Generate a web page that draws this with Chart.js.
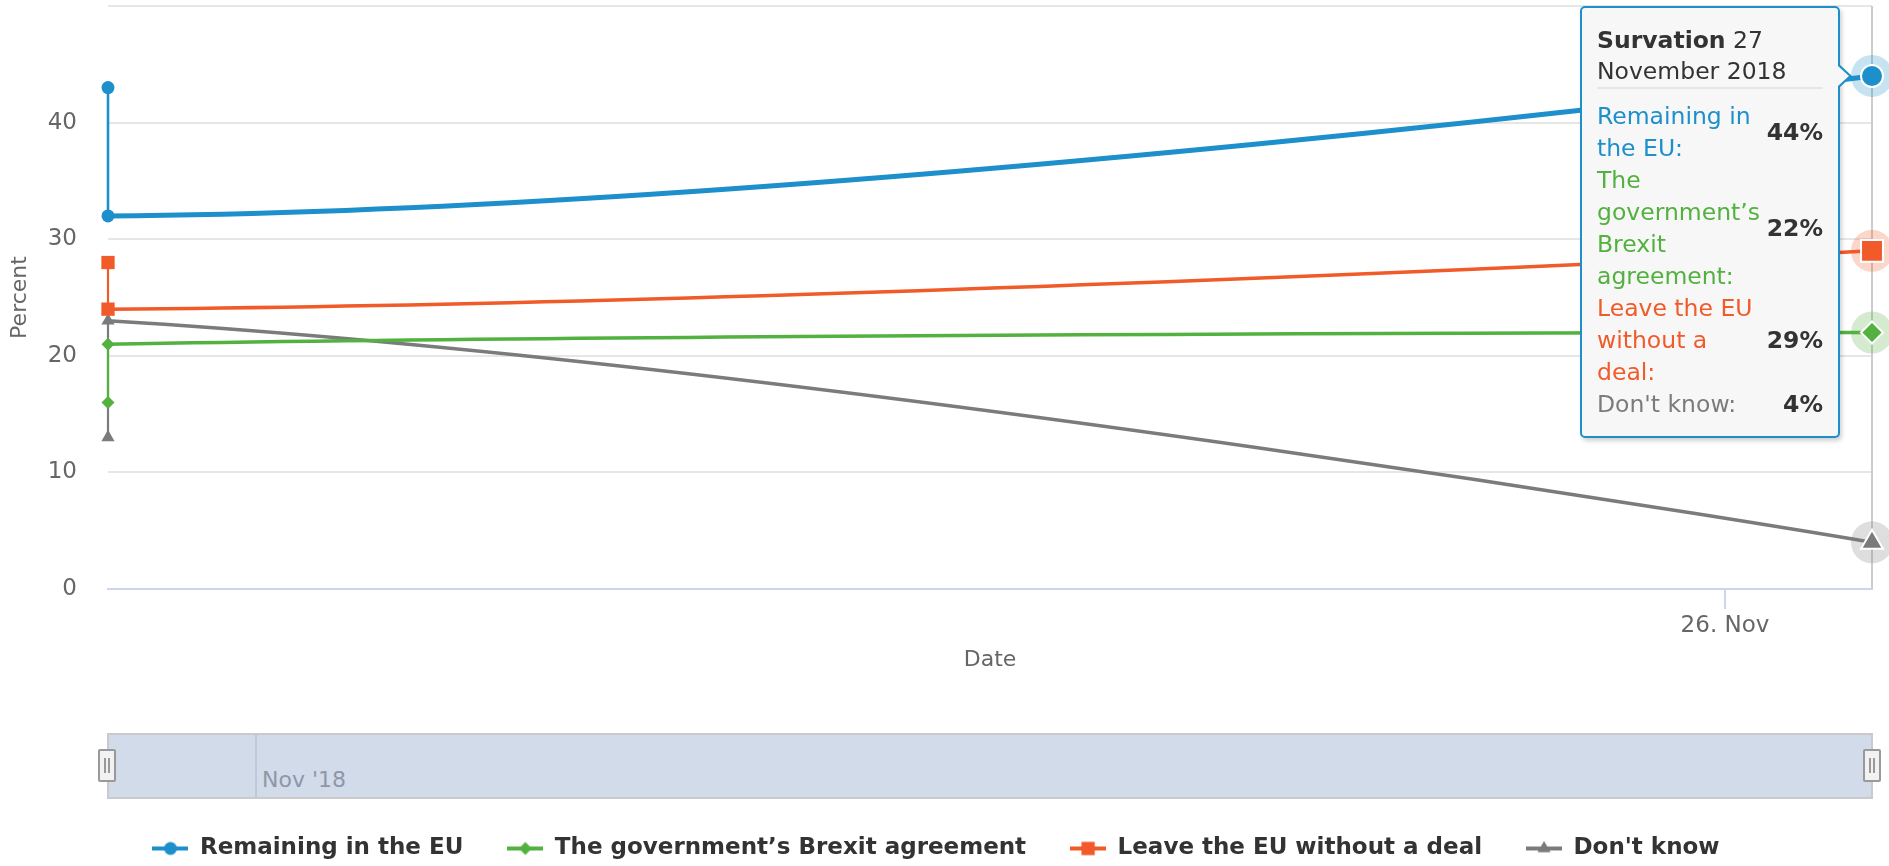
<!DOCTYPE html>
<html>
<head>
<meta charset="utf-8">
<title>Brexit polling</title>
<script src="https://cdn.jsdelivr.net/npm/chart.js@4/dist/chart.umd.min.js"></script>
<style>
    body { margin: 0; background: #fff; }
    #wrap { position: relative; width: 1889px; height: 866px; }
    #pollChart { position: absolute; left: 0; top: 0; }

    /* tooltip box, filled from the chart's tooltip model */
    #tip {
        position: absolute; display: none; box-sizing: border-box; width: 260px;
        background: #f7f7f7; border: 2px solid var(--c); border-radius: 5px;
        padding: 17px 15px 16px 15px; box-shadow: 2px 3px 4px rgba(0, 0, 0, 0.18);
        font: 23.5px "DejaVu Sans", sans-serif; color: #333; pointer-events: none;
    }
    #tip::before, #tip::after { content: ''; position: absolute; border-style: solid; }
    #tip::before { right: -14px; top: 56px; border-width: 12px 0 12px 13px; border-color: transparent transparent transparent var(--c); }
    #tip::after { right: -11px; top: 58px; border-width: 10px 0 10px 11px; border-color: transparent transparent transparent #f7f7f7; }
    #tip .head { line-height: 31px; border-bottom: 2px solid #e6e6e6; }
    #tip table { border-collapse: collapse; margin-top: 11px; width: 100%; }
    #tip td { padding: 0; line-height: 32px; }
    #tip td.name { width: 170px; }
    #tip td.value { font-weight: bold; text-align: right; vertical-align: middle; }

    /* range selector strip under the chart */
    .nav { position: absolute; top: 733px; height: 62px; background: #d2dbea; border: 2px solid #cacaca; }
    .nav-grid { position: absolute; left: 146px; top: 0; bottom: 0; width: 2px; background: #bec8da; }
    .nav-label { position: absolute; left: 153px; top: 32px; font: 22px "DejaVu Sans", sans-serif; color: #8e97a8; }
    .handle { position: absolute; top: 749px; width: 14px; height: 29px; background: #f2f2f2; border: 2px solid #999; border-radius: 2px; }
    .handle::before, .handle::after { content: ''; position: absolute; top: 7px; height: 15px; width: 2px; background: #999; }
    .handle::before { left: 4px; }
    .handle::after { left: 8px; }
</style>
</head>
<body>
<div id="wrap">
    <canvas id="pollChart"></canvas>
    <div class="nav" id="nav"><div class="nav-grid"></div><span class="nav-label">Nov '18</span></div>
    <div class="handle" id="handleLeft"></div>
    <div class="handle" id="handleRight"></div>
    <div id="tip"></div>
</div>
<script>
// Poll dates as day of November 2018, two polls on the first day
const pollDays = [15, 15, 27];

// Percent per answer, in poll order
const remaining = [43, 32, 44];
const governmentDeal = [16, 21, 22];
const leaveNoDeal = [28, 24, 29];
const dontKnow = [13, 23, 4];

const seriesNames = ['Remaining in the EU', 'The government’s Brexit agreement', 'Leave the EU without a deal', "Don't know"];
const seriesValues = [remaining, governmentDeal, leaveNoDeal, dontKnow];

// x axis shows a single dated tick
const xTicks = [26];
const xTickLabels = ['26. Nov'];

const latestPollster = 'Survation';
const latestPollDate = '27 November 2018';

// look of each series
const colors = ['#1d8fcb', '#52b13f', '#f15a29', '#7b7b7b'];
const markers = ['circle', 'rectRot', 'rect', 'triangle'];
const markerRadius = [6.5, 6.5, 9.4, 7.6];
const hoverRadius = [11, 11, 15.5, 12.7];
const lineWidths = [5, 3.5, 3.5, 3.5];
const sameDayWidths = [2.6, 2.2, 2.2, 2.2];

const FONT = 'DejaVu Sans';
Chart.defaults.font.family = FONT;

// Small line + marker pictures for the legend
function legendSymbol(i) {
    const c = document.createElement('canvas');
    c.width = 36;
    c.height = 22;
    const g = c.getContext('2d');
    g.strokeStyle = colors[i];
    g.lineWidth = 4;
    g.beginPath();
    g.moveTo(0, 11);
    g.lineTo(36, 11);
    g.stroke();
    g.fillStyle = colors[i];
    Chart.helpers.drawPoint(g, { pointStyle: markers[i], radius: markerRadius[i], rotation: 0, borderWidth: 0 }, 18, 11);
    return c;
}
const symbols = seriesNames.map((n, i) => legendSymbol(i));

const datasets = seriesNames.map((name, i) => ({
    label: name,
    data: pollDays.map((d, k) => ({ x: d, y: seriesValues[i][k] })),
    borderColor: colors[i],
    backgroundColor: colors[i],
    borderWidth: lineWidths[i],
    tension: 0.4,
    clip: false,
    pointStyle: markers[i],
    pointRadius: markerRadius[i],
    pointBorderWidth: 0,
    pointHoverRadius: hoverRadius[i],
    pointHoverBackgroundColor: colors[i],
    pointHoverBorderColor: '#ffffff',
    pointHoverBorderWidth: 2,
    // polls on the same day are joined by a thin line
    segment: {
        borderWidth: c => (c.p0.parsed.x === c.p1.parsed.x ? sameDayWidths[i] : undefined)
    }
}));

// Highcharts style spline: handles at 1/2.5 of the way to the neighbours,
// kept level through the point and clamped so the curve never overshoots.
const SMOOTHING = 1.5;
const splineFix = {
    id: 'splineFix',
    beforeDatasetDraw(chart, args) {
        const meta = args.meta;
        if (!meta.dataset) return;
        meta.dataset.updateControlPoints(chart.chartArea, meta.iScale.axis);
        const pts = meta.data;
        const denom = SMOOTHING + 1;
        pts.forEach((p, i) => {
            const prev = pts[i - 1];
            const next = pts[i + 1];
            p.cp1x = p.x; p.cp1y = p.y;
            p.cp2x = p.x; p.cp2y = p.y;
            if (!prev || !next) return;
            const lx = (SMOOTHING * p.x + prev.x) / denom;
            const rx = (SMOOTHING * p.x + next.x) / denom;
            let ly = (SMOOTHING * p.y + prev.y) / denom;
            let ry = (SMOOTHING * p.y + next.y) / denom;
            if (rx !== lx) {
                const corr = ((ry - ly) * (rx - p.x)) / (rx - lx) + p.y - ry;
                ly += corr;
                ry += corr;
            }
            if (ly > prev.y && ly > p.y) {
                ly = Math.max(prev.y, p.y);
                ry = 2 * p.y - ly;
            } else if (ly < prev.y && ly < p.y) {
                ly = Math.min(prev.y, p.y);
                ry = 2 * p.y - ly;
            }
            if (ry > next.y && ry > p.y) {
                ry = Math.max(next.y, p.y);
                ly = 2 * p.y - ry;
            } else if (ry < next.y && ry < p.y) {
                ry = Math.min(next.y, p.y);
                ly = 2 * p.y - ry;
            }
            p.cp1x = lx; p.cp1y = ly;
            p.cp2x = rx; p.cp2y = ry;
        });
    }
};

// Crosshair and halos behind the hovered points
const hoverDecor = {
    id: 'hoverDecor',
    beforeDatasetsDraw(chart) {
        const active = chart.getActiveElements();
        if (!active.length) return;
        const { ctx, chartArea } = chart;
        ctx.save();
        const x = active[0].element.x;
        ctx.strokeStyle = '#cccccc';
        ctx.lineWidth = 2;
        ctx.beginPath();
        ctx.moveTo(x, chartArea.top);
        ctx.lineTo(x, chartArea.bottom);
        ctx.stroke();
        ctx.globalAlpha = 0.25;
        active.forEach(a => {
            const el = a.element;
            ctx.fillStyle = chart.data.datasets[a.datasetIndex].borderColor;
            ctx.beginPath();
            ctx.arc(el.x, el.y, 21, 0, Math.PI * 2);
            ctx.fill();
        });
        ctx.restore();
    }
};

// Tooltip anchored on the first hovered point
Chart.Tooltip.positioners.firstPoint = function(items) {
    if (!items.length) return false;
    return { x: items[0].element.x, y: items[0].element.y };
};

function renderTooltip(context) {
    const tooltip = context.tooltip;
    const tip = document.getElementById('tip');
    if (tooltip.opacity === 0 || !tooltip.dataPoints) {
        tip.style.display = 'none';
        return;
    }
    const rows = tooltip.dataPoints.map(p =>
        '<tr><td class="name" style="color:' + p.dataset.borderColor + '">' + p.dataset.label + ':</td>' +
        '<td class="value">' + p.parsed.y + '%</td></tr>').join('');
    tip.innerHTML = '<div class="head"><b>' + latestPollster + '</b> ' + latestPollDate + '</div><table>' + rows + '</table>';
    tip.style.setProperty('--c', tooltip.dataPoints[0].dataset.borderColor);
    tip.style.display = 'block';
    tip.style.left = (tooltip.caretX - 32 - tip.offsetWidth) + 'px';
    tip.style.top = (tooltip.caretY - 70) + 'px';
}

const tickFont = { family: FONT, size: 23 };
const titleFont = { family: FONT, size: 22 };

const ctx = document.getElementById('pollChart').getContext('2d');
const chart = new Chart(ctx, {
    type: 'line',
    data: { datasets: datasets },
    options: {
        responsive: true,
        maintainAspectRatio: false,
        animation: false,
        events: [],
        layout: { autoPadding: false, padding: { top: 6, right: 17, bottom: -4 } },
        scales: {
            x: {
                type: 'linear',
                min: pollDays[0],
                max: pollDays[pollDays.length - 1],
                afterBuildTicks: axis => { axis.ticks = xTicks.map(v => ({ value: v })); },
                afterFit: axis => { axis.height = 204; },
                grid: { drawOnChartArea: false, drawTicks: true, tickLength: 20, color: '#ccd6eb', lineWidth: 2 },
                border: { color: '#ccd6eb', width: 2 },
                ticks: {
                    padding: 3,
                    color: '#666',
                    font: tickFont,
                    maxRotation: 0,
                    autoSkip: false,
                    callback: v => xTickLabels[xTicks.indexOf(v)] || ''
                },
                title: { display: true, text: 'Date', color: '#666', font: titleFont, padding: { top: 0, bottom: 120 } }
            },
            y: {
                min: 0,
                max: 50,
                afterFit: axis => { axis.width = 108; },
                // invisible tick marks leave the gap between labels and plot
                grid: { color: '#e6e6e6', lineWidth: 2, drawTicks: true, tickLength: 31, tickColor: 'rgba(0,0,0,0)' },
                border: { display: false },
                ticks: {
                    stepSize: 10,
                    padding: 0,
                    color: '#666',
                    font: { family: FONT, size: 23, lineHeight: 0.5 },
                    callback: v => (v === 50 ? '' : v)
                },
                title: { display: true, text: 'Percent', color: '#666', font: titleFont, padding: { top: 7 } }
            }
        },
        plugins: {
            legend: {
                position: 'bottom',
                labels: {
                    usePointStyle: true,
                    pointStyleWidth: 36,
                    padding: 44,
                    color: '#333',
                    font: { family: FONT, size: 23, weight: 'bold' },
                    generateLabels: c => c.data.datasets.map((ds, i) => ({
                        text: ds.label,
                        pointStyle: symbols[i],
                        fillStyle: ds.borderColor,
                        strokeStyle: ds.borderColor,
                        lineWidth: 0,
                        fontColor: '#333',
                        hidden: false,
                        datasetIndex: i
                    }))
                }
            },
            tooltip: { enabled: false, position: 'firstPoint', external: renderTooltip }
        }
    },
    plugins: [splineFix, hoverDecor]
});

// navigator strip follows the plot width
const area = chart.chartArea;
const nav = document.getElementById('nav');
nav.style.left = (area.left - 1) + 'px';
nav.style.width = (area.right - area.left - 2) + 'px';
document.getElementById('handleLeft').style.left = (area.left - 10) + 'px';
document.getElementById('handleRight').style.left = (area.right - 9) + 'px';

// show the latest poll as hovered
const last = pollDays.length - 1;
const active = datasets.map((ds, i) => ({ datasetIndex: i, index: last }));
chart.setActiveElements(active);
const firstEl = chart.getDatasetMeta(0).data[last];
chart.tooltip.setActiveElements(active, { x: firstEl.x, y: firstEl.y });
chart.update();
</script>
</body>
</html>
